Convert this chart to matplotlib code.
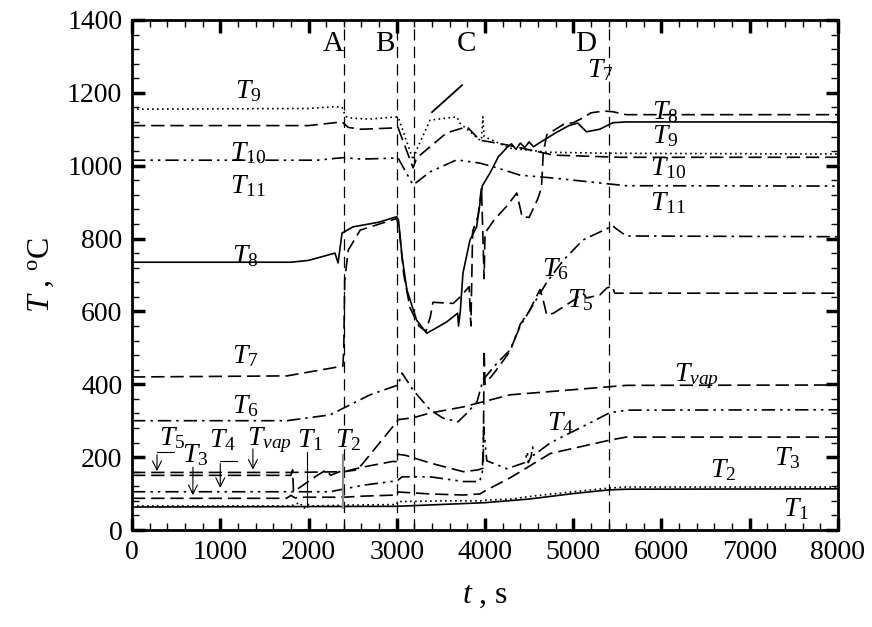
import numpy as np
import matplotlib.pyplot as plt
from matplotlib.ticker import MultipleLocator

plt.rcParams['font.family'] = 'Liberation Serif'
plt.rcParams['mathtext.fontset'] = 'custom'
plt.rcParams['mathtext.rm'] = 'Liberation Serif'
plt.rcParams['mathtext.it'] = 'Liberation Serif:italic'

# thermocouple readings (time s, temperature C)
t1_x = [0, 3000, 3500, 4000, 4500, 5000, 5400, 5600, 8000]
t1_y = [63, 65, 70, 75, 85, 100, 110, 112, 113]

t2_x = [0, 1800, 1900, 1950, 2000, 2050, 2400, 3000, 3010, 3500, 3950, 4010, 4300, 4500, 5000, 5400, 5600, 8000]
t2_y = [66, 66, 75, 60, 70, 66, 68, 70, 78, 80, 80, 82, 85, 92, 105, 115, 118, 118]

t3_x = [0, 1750, 1800, 1850, 1900, 2400, 2620, 3000, 3015, 3037, 3377, 3755, 3943, 4020, 4283, 4740, 5420, 5600, 8000]
t3_y = [87, 87, 95, 88, 90, 90, 93, 96, 104, 104, 99, 96, 99, 110, 143, 210, 247, 255, 255]

t4_x = [0, 1750, 2244, 2620, 3000, 3015, 3060, 3377, 3755, 3940, 3970, 3985, 4020, 4250, 4450, 4480,
        4490, 4520, 4540, 4550, 4740, 4960, 5190, 5415, 5610, 8000]
t4_y = [105, 105, 105, 123, 135, 137, 146, 146, 133, 133, 160, 283, 190, 168, 185, 215,
        185, 200, 228, 205, 239, 266, 294, 322, 329, 330]

t5_x = [0, 1800, 1820, 1830, 2100, 2200, 2250, 2350, 2400, 2600, 2950, 3000, 3010, 3100, 3377, 3755,
        3922, 3980, 3990, 4000, 4100, 4283, 4400, 4500, 4623, 4650, 4700, 4775, 5000, 5110, 5150,
        5300, 5380, 5440, 5470, 8000]
t5_y = [150, 150, 165, 105, 150, 165, 150, 160, 160, 172, 188, 188, 208, 205, 184, 160,
        165, 170, 494, 400, 430, 490, 565, 600, 660, 640, 590, 595, 630, 650, 637,
        645, 664, 670, 650, 650]

tvap_x = [0, 1800, 2400, 2550, 2620, 3000, 3015, 3185, 3377, 3755, 4283, 5400, 5600, 8000]
tvap_y = [158, 158, 160, 165, 184, 297, 303, 308, 321, 338, 371, 393, 397, 398]

t6_x = [0, 1756, 2244, 2400, 2697, 3015, 3060, 3185, 3377, 3525, 3694, 3796, 3910, 3977, 4136, 4283,
        4400, 4600, 4700, 4890, 5110, 5450, 5470, 5600, 8000]
t6_y = [300, 300, 316, 335, 371, 398, 431, 384, 330, 307, 297, 321, 352, 412, 458, 494,
        560, 640, 680, 741, 796, 835, 830, 807, 805]

t7_x = [0, 1756, 2390, 2400, 2410, 2450, 2585, 3000, 3030, 3080, 3150, 3250, 3330, 3380, 3410, 3640,
        3720, 3820, 3840, 3860, 3920, 3960, 3990, 4000, 4100, 4250, 4360, 4420, 4500, 4600, 4640,
        4660, 4700, 4800, 4900, 5000, 5100, 5200, 5350, 5450, 5600, 8000]
t7_y = [420, 423, 450, 502, 685, 768, 823, 855, 820, 700, 610, 560, 545, 585, 625, 622,
        640, 668, 560, 820, 860, 940, 690, 815, 850, 890, 925, 860, 858, 910, 940,
        1034, 1085, 1100, 1115, 1118, 1130, 1145, 1150, 1148, 1140, 1140]

t8_x = [0, 1800, 2000, 2300, 2335, 2380, 2504, 2800, 3000, 3020, 3060, 3115, 3225, 3340, 3450, 3565,
        3690, 3700, 3720, 3750, 3830, 3905, 3943, 3970, 4057, 4150, 4250, 4300, 4350, 4400, 4450,
        4500, 4550, 4600, 4700, 4800, 4950, 5050, 5150, 5300, 5450, 5600, 8000]
t8_y = [735, 735, 740, 760, 733, 815, 832, 845, 860, 850, 750, 659, 576, 540, 555, 571,
        595, 560, 600, 705, 796, 832, 897, 945, 980, 1024, 1050, 1060, 1045, 1062, 1050,
        1065, 1052, 1060, 1075, 1090, 1110, 1117, 1093, 1100, 1118, 1120, 1120]

t9_x = [0, 2000, 2300, 2380, 2420, 2500, 2700, 2900, 3015, 3185, 3225, 3377, 3680, 3715, 3943, 3960,
        3975, 3990, 4283, 4700, 5400, 8000]
t9_y = [1155, 1157, 1162, 1160, 1135, 1130, 1128, 1132, 1134, 1016, 1043, 1125, 1134, 1117, 1070, 1070,
        1134, 1080, 1048, 1037, 1034, 1032]

t10_x = [0, 2000, 2300, 2380, 2450, 2600, 3015, 3185, 3225, 3565, 3795, 3943, 4250, 4775, 5530, 8000]
t10_y = [1110, 1110, 1118, 1120, 1105, 1100, 1104, 994, 1021, 1090, 1107, 1070, 1057, 1029, 1023, 1023]

t11_x = [0, 2100, 2300, 2400, 2600, 3015, 3185, 3377, 3680, 3943, 4136, 4397, 4775, 5400, 5600, 8000]
t11_y = [1015, 1015, 1020, 1022, 1018, 1021, 947, 983, 1016, 1007, 994, 974, 966, 950, 945, 944]

stage_x = [2400, 3000, 3200, 5400]

SOLID = '-'
DOT = (0, (1, 2))
DASH = (0, (8, 3.5))
DASHDOT = (0, (8, 3, 1.5, 3))
DASHDOTDOT = (0, (8, 3, 1.5, 3, 1.5, 3))

fig = plt.figure(figsize=(8.72, 6.27), dpi=100)
ax = fig.add_axes([0.1514, 0.1547, 0.8096, 0.8135])

series = [
    (t1_x, t1_y, SOLID), (t2_x, t2_y, DOT), (t3_x, t3_y, DASH), (t4_x, t4_y, DASHDOTDOT),
    (t5_x, t5_y, DASH), (tvap_x, tvap_y, DASH), (t6_x, t6_y, DASHDOT), (t7_x, t7_y, DASH),
    (t8_x, t8_y, SOLID), (t9_x, t9_y, DOT), (t10_x, t10_y, DASH), (t11_x, t11_y, DASHDOTDOT),
]
for xs, ys, ls in series:
    ax.plot(xs, ys, color='black', lw=1.2, linestyle=ls)

for xv in stage_x:
    ax.axvline(xv, color='black', lw=0.9, linestyle=(0, (9, 5)))

# stage letters
ax.text(2280, 1335, 'A', fontsize=21, ha='center', va='center')
ax.text(2870, 1335, 'B', fontsize=21, ha='center', va='center')
ax.text(3790, 1335, 'C', fontsize=21, ha='center', va='center')
ax.text(5140, 1335, 'D', fontsize=21, ha='center', va='center')
ax.plot([3400, 3740], [1147, 1221], color='black', lw=1.3)

def lab(x, y, sub):
    ax.text(x, y, r'$\mathit{T}_{\mathit{%s}}$' % sub, fontsize=20, ha='center', va='center')

# curve labels
lab(1314, 1205, '9')
lab(1314, 1033, '10')
lab(1314, 945, '11')
lab(1280, 752, '8')
lab(1280, 478, '7')
lab(1280, 340, '6')
lab(450, 252, '5')
lab(714, 205, '3')
lab(1030, 247, '4')
lab(1560, 247, 'vap')
lab(2017, 247, '1')
lab(2447, 247, '2')
lab(5303, 1262, '7')
lab(6040, 1147, '8')
lab(6040, 1082, '9')
lab(6073, 992, '10')
lab(6073, 898, '11')
lab(4793, 717, '6')
lab(5076, 630, '5')
lab(6400, 423, 'vap')
lab(4850, 292, '4')
lab(7420, 198, '3')
lab(6700, 163, '2')
lab(7530, 58, '1')

# pointer lines for the crowded labels
arrow = dict(arrowstyle='->', lw=0.8, color='black', mutation_scale=16)
ax.plot([480, 283], [214, 214], color='black', lw=0.8)
ax.annotate('', xy=(283, 154), xytext=(283, 214), arrowprops=arrow)
ax.annotate('', xy=(690, 88), xytext=(690, 180), arrowprops=arrow)
ax.plot([1190, 1000], [190, 190], color='black', lw=0.8)
ax.annotate('', xy=(1000, 108), xytext=(1000, 190), arrowprops=arrow)
ax.annotate('', xy=(1370, 158), xytext=(1370, 230), arrowprops=arrow)
ax.plot([1983, 1983], [215, 63], color='black', lw=0.8)
ax.plot([2390, 2390], [205, 60], color='0.55', lw=1.6)

ax.set_xlim(0, 8000)
ax.set_ylim(0, 1400)
ax.xaxis.set_major_locator(MultipleLocator(1000))
ax.xaxis.set_minor_locator(MultipleLocator(200))
ax.yaxis.set_major_locator(MultipleLocator(200))
ax.yaxis.set_minor_locator(MultipleLocator(40))
ax.tick_params(which='both', direction='in', top=True, right=True, labelsize=20)
ax.tick_params(which='major', length=9, width=2.5, pad=7)
ax.tick_params(which='minor', length=5, width=1)
for sp in ax.spines.values():
    sp.set_linewidth(2)

ax.set_xlabel(r'$\mathit{t}$ , s', fontsize=23, labelpad=12)
ax.set_ylabel(r'$\mathit{T}$ , $^{\mathrm{o}}$C', fontsize=23, labelpad=8)

fig.savefig('out.png', dpi=100)
